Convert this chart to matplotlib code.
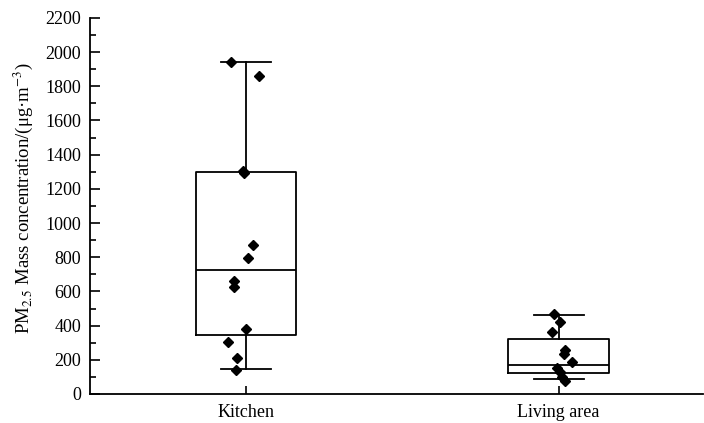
import numpy as np
import matplotlib.pyplot as plt
from matplotlib.ticker import MultipleLocator

plt.rcParams['font.family'] = ['Liberation Serif', 'DejaVu Serif']
plt.rcParams['mathtext.fontset'] = 'stix'

# box statistics
groups = ["Kitchen", "Living area"]
whislo = [146, 88]
q1 = [345, 125]
med = [725, 170]
q3 = [1299, 320]
whishi = [1944, 462]

# individual samples
kitchen = [1944, 1861, 1305, 1292, 870, 797, 661, 625, 380, 304, 212, 140]
living = [468, 423, 365, 257, 234, 185, 154, 130, 101, 76]

# horizontal scatter so the points don't stack
kitchen_dx = [-0.049, 0.042, -0.009, -0.006, 0.022, 0.006, -0.038, -0.038, 0.002, -0.058, -0.027, -0.033]
living_dx = [-0.015, 0.006, -0.022, 0.02, 0.019, 0.044, -0.004, 0.006, 0.012, 0.022]

stats = []
for i, g in enumerate(groups):
    stats.append(dict(label=g, whislo=whislo[i], q1=q1[i], med=med[i],
                      q3=q3[i], whishi=whishi[i], fliers=[]))

fig = plt.figure(figsize=(7.04, 4.23), dpi=100)
ax = fig.add_axes([0.128, 0.0686, 0.871, 0.889])

lw = 1.3
ax.bxp(stats, positions=[1, 2], widths=0.32, showfliers=False,
       boxprops=dict(color='black', linewidth=lw),
       medianprops=dict(color='black', linewidth=lw),
       whiskerprops=dict(color='black', linewidth=lw),
       capprops=dict(color='black', linewidth=lw),
       capwidths=0.16)

ax.plot(1 + np.array(kitchen_dx), kitchen, 'D', color='black', markersize=5.5, zorder=3)
ax.plot(2 + np.array(living_dx), living, 'D', color='black', markersize=5.5, zorder=3)

ax.set_xlim(0.502, 2.463)
ax.set_ylim(0, 2200)
ax.yaxis.set_major_locator(MultipleLocator(200))
ax.yaxis.set_minor_locator(MultipleLocator(100))
ax.set_xticks([1, 2])
ax.set_xticklabels(groups)

ax.spines[['top', 'right']].set_visible(False)
ax.spines['left'].set_linewidth(lw)
ax.spines['bottom'].set_linewidth(lw)
ax.tick_params(axis='y', which='major', direction='in', length=7, width=1.2, labelsize=13, pad=6.5)
ax.tick_params(axis='y', which='minor', direction='in', length=4, width=1.2)
ax.tick_params(axis='x', direction='in', length=6, width=1.2, labelsize=13, pad=7)

ax.set_ylabel(r'PM$_{2.5}$ Mass concentration/(μg·m$^{-3}$)', fontsize=13.5, labelpad=3)
ax.yaxis.set_label_coords(-0.09, 0.52)

fig.savefig('out.png', dpi=100)
